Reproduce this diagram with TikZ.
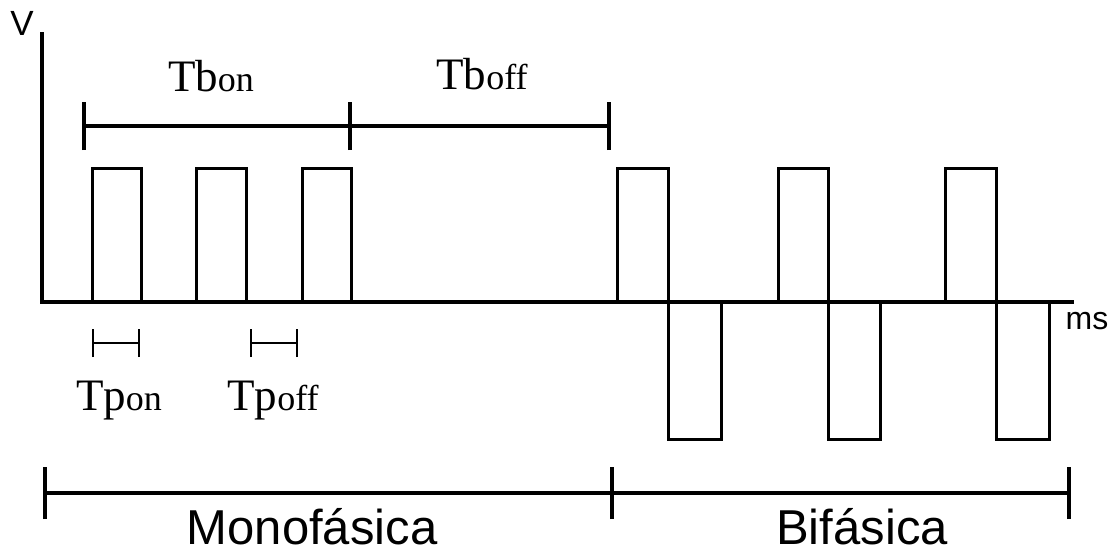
\documentclass[tikz,border=0pt]{standalone}
\usepackage{fontspec}
\setmainfont{Liberation Serif}
\newfontfamily\sansf{Liberation Sans}
\begin{document}
\begin{tikzpicture}[x=1pt,y=-1pt,
  axisline/.style={line width=3.6pt},
  pulse/.style={line width=3pt},
  barline/.style={line width=4pt},
  tickline/.style={line width=3.2pt},
  smallbar/.style={line width=2.8pt},
  serlabel/.style={font=\fontsize{45}{45}\selectfont, inner sep=0pt, anchor=base},
  sanslabel/.style={font=\sansf\fontsize{49}{49}\selectfont, inner sep=0pt, anchor=base},
  unitlabel/.style={font=\sansf\fontsize{32}{32}\selectfont, inner sep=0pt, anchor=base}]
\useasboundingbox (0,0) rectangle (1120,554);
\fill[white] (0,0) rectangle (1120,554);
% axes
\coordinate (O) at (42,302);
\coordinate (ytop) at (42,32);
\coordinate (xend) at (1074,302);
\draw[axisline] (ytop) -- (O) -- (xend);
\node[font=\sansf\fontsize{35}{35}\selectfont, inner sep=0pt, anchor=base] (V) at (22,35) {V};
\node[unitlabel] (ms) at (1087,329) {ms};
% monophasic pulses
\draw[pulse] (92,302) -- (92,168) -- (141,168) -- (141,302);
\draw[pulse] (196,302) -- (196,168) -- (246,168) -- (246,302);
\draw[pulse] (302,302) -- (302,168) -- (351,168) -- (351,302);
% biphasic pulses
\draw[pulse] (617,302) -- (617,168) -- (668,168) -- (668,439) -- (721,439) -- (721,302);
\draw[pulse] (778,302) -- (778,168) -- (828,168) -- (828,439) -- (880,439) -- (880,302);
\draw[pulse] (945,302) -- (945,168) -- (996,168) -- (996,439) -- (1049,439) -- (1049,302);
% Tb bars
\coordinate (tb0) at (84,126);
\coordinate (tb1) at (350,126);
\coordinate (tb2) at (609,126);
\draw[barline] (tb0) -- (tb2);
\foreach \c in {tb0,tb1,tb2} \draw[tickline] ([yshift=-24pt]\c) -- ([yshift=24pt]\c);
\node[serlabel] (tbon) at (211,91) {Tb\fontsize{36}{36}\selectfont on};
\node[serlabel] (tboff) at (482,89) {Tb\fontsize{36}{36}\selectfont off};
% Tp bars
\coordinate (tpa0) at (93,343);
\coordinate (tpa1) at (139,343);
\coordinate (tpb0) at (251,343);
\coordinate (tpb1) at (297,343);
\draw[smallbar] (tpa0) -- (tpa1);
\draw[smallbar] (tpb0) -- (tpb1);
\foreach \c in {tpa0,tpa1,tpb0,tpb1} \draw[smallbar] ([yshift=-14pt]\c) -- ([yshift=14pt]\c);
\node[serlabel] (tpon) at (119,410) {Tp\fontsize{36}{36}\selectfont on};
\node[serlabel] (tpoff) at (273,410) {Tp\fontsize{36}{36}\selectfont off};
% bottom bar
\coordinate (b0) at (45,493);
\coordinate (b1) at (612,493);
\coordinate (b2) at (1069,493);
\draw[barline] (b0) -- (b2);
\foreach \c in {b0,b1,b2} \draw[tickline] ([yshift=-26pt]\c) -- ([yshift=26pt]\c);
\node[sanslabel] (mono) at (312,544) {Monofásica};
\node[sanslabel] (bi) at (862,544) {Bifásica};
\end{tikzpicture}
\end{document}
